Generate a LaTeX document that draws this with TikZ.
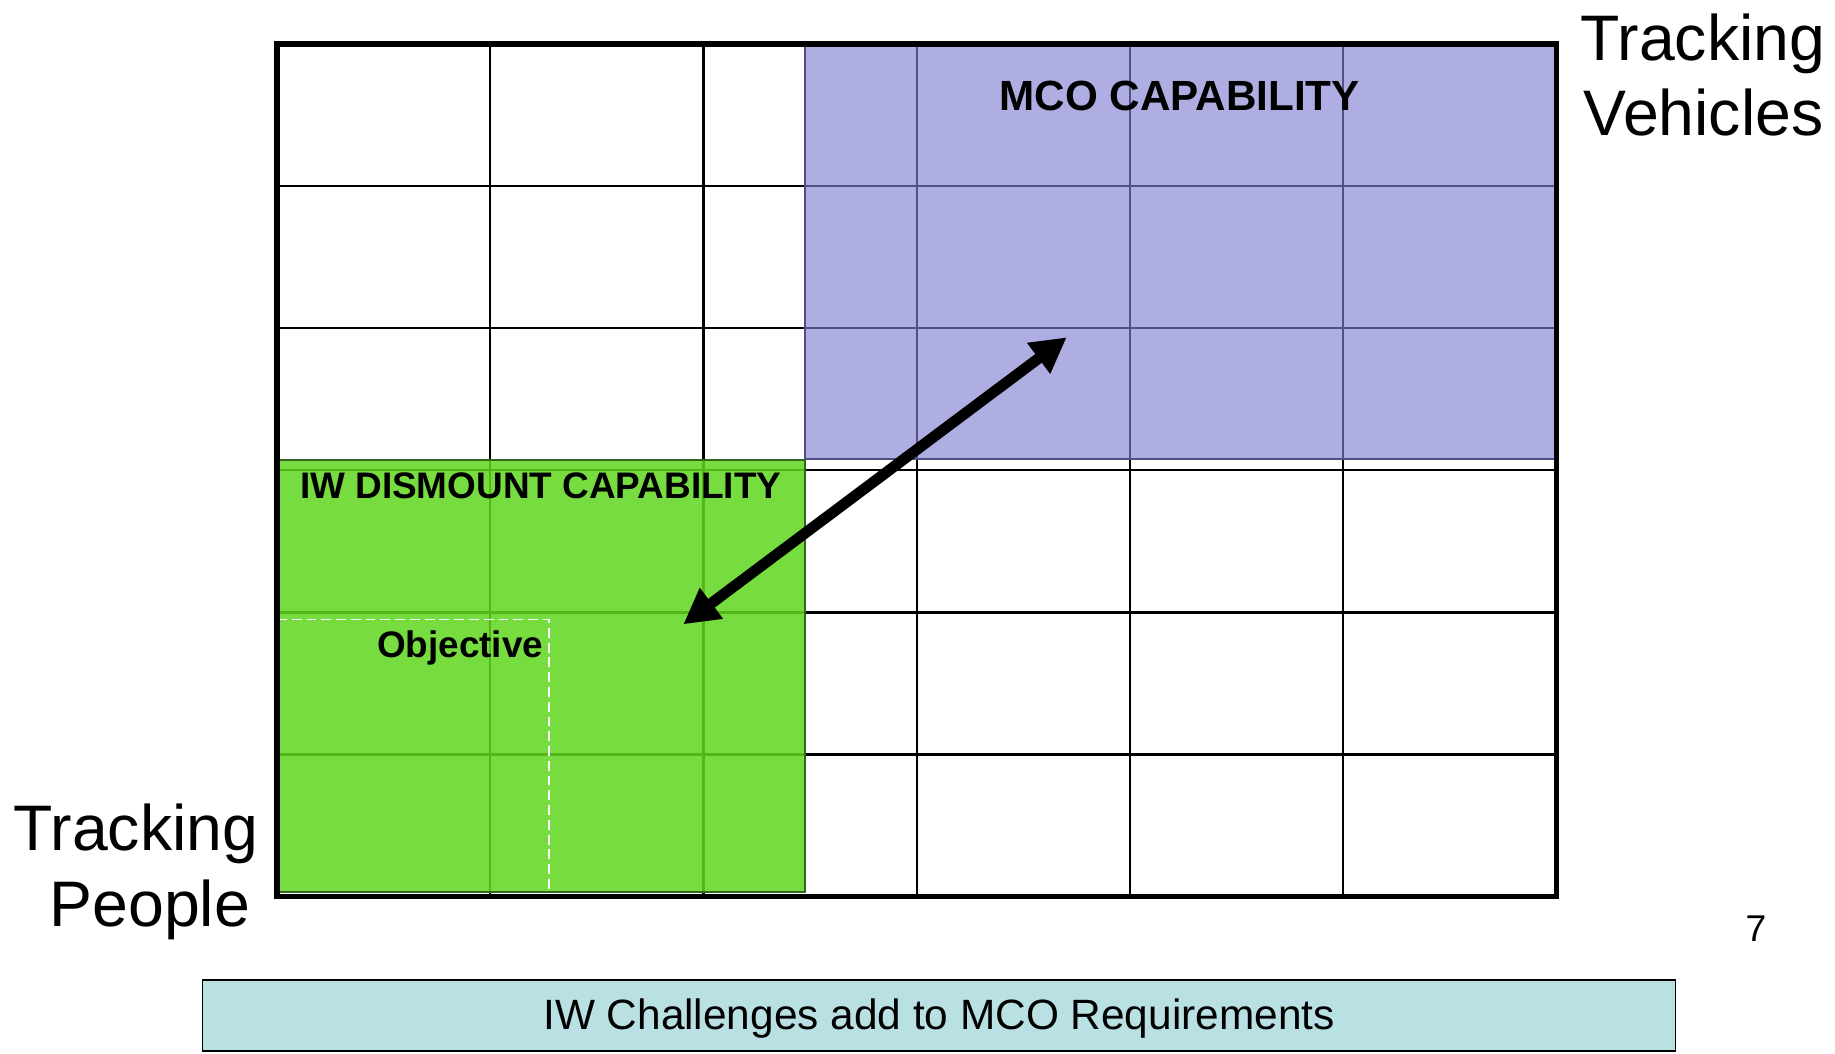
\documentclass[tikz,border=0pt]{standalone}
\usepackage{fontspec}
\setmainfont{Liberation Sans}
\usetikzlibrary{arrows.meta}
\definecolor{mcoblue}{RGB}{128,128,210}
\definecolor{iwgreen}{RGB}{97,214,31}
\definecolor{boxcyan}{RGB}{185,224,227}
\definecolor{mcoedge}{RGB}{80,80,128}
\definecolor{iwedge}{RGB}{55,100,30}
\tikzset{
  gridline/.style={line width=0.7pt, draw=black},
  framestyle/.style={line width=1.5pt, draw=black},
  axislabel/.style={font=\fontsize{18.3}{21}\selectfont, inner sep=0pt, anchor=base west},
  regionlabel/.style={font=\bfseries\fontsize{10.5}{12}\selectfont, inner sep=0pt, anchor=base},
  mcolabel/.style={font=\bfseries\fontsize{12}{14}\selectfont, inner sep=0pt, anchor=base},
  pagenum/.style={font=\fontsize{10.6}{12}\selectfont, inner sep=0pt, anchor=base west},
  bannerbox/.style={draw=black, line width=0.5pt, fill=boxcyan, minimum width=14.72cm,
    minimum height=0.71cm, inner sep=0pt, text height=10pt, text depth=2pt,
    font=\fontsize{12.05}{14}\selectfont},
  bigarrow/.style={line width=3.1pt, draw=black,
    {Triangle[length=10pt,width=10.3pt]}-{Triangle[length=10pt,width=10.3pt]}},
  objdash/.style={draw=white, line width=0.45pt, dash pattern=on 2.8pt off 1.4pt}
}
\begin{document}
\begin{tikzpicture}[x=0.01cm,y=-0.01cm]
\useasboundingbox (0,0) rectangle (1835,1053);
% grid
\foreach \i in {1,...,5} {
  \draw[gridline] ({277+\i*213.25},44) -- ({277+\i*213.25},896.5);
  \draw[gridline] (277,{44+\i*142.08}) -- (1556.5,{44+\i*142.08});
}
% MCO region
\fill[mcoblue, fill opacity=0.64] (805,44) rectangle (1556.5,459);
\draw[mcoedge, line width=0.45pt] (805,44) rectangle (1556.5,459);
% IW region
\fill[iwgreen, fill opacity=0.86] (277,460) rectangle (805,892);
\draw[iwedge, line width=0.5pt] (277,460) rectangle (805,892);
% objective dashed outline
\draw[objdash] (277,619.3) -- (549,619.3) -- (549,892);
% frame
\draw[framestyle] (277,44) rectangle (1556.5,896.5);
% labels
\node[mcolabel] (mco) at (1179.7,110.7) {MCO CAPABILITY};
\node[regionlabel] (iw) at (540.7,498.3) {IW DISMOUNT CAPABILITY};
\node[regionlabel, anchor=base east] (obj) at (544,657.3) {Objective};
\node[axislabel] (tp1) at (13,850) {Tracking};
\node[axislabel] (tp2) at (49,926.7) {People};
\node[axislabel] (tv1) at (1580,60) {Tracking};
\node[axislabel] (tv2) at (1583,135) {Vehicles};
\node[pagenum] (pg) at (1745,941.7) {7};
% arrow
\coordinate (arrA) at (683.3,624.3);
\coordinate (arrB) at (1066.7,337.3);
\draw[bigarrow] (arrA) -- (arrB);
% banner
\node[bannerbox] (banner) at (939,1015.5) {IW Challenges add to MCO Requirements};
\end{tikzpicture}
\end{document}
